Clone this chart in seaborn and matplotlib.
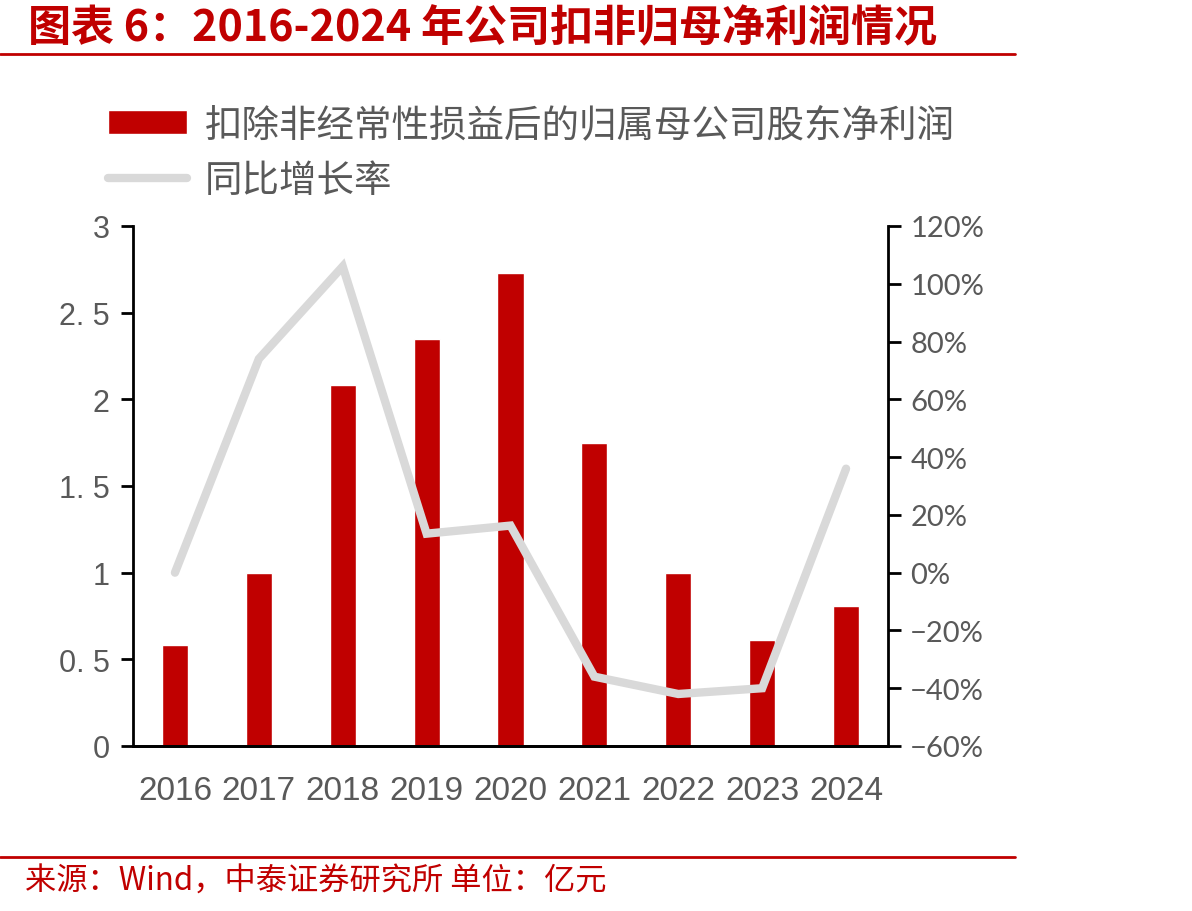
import numpy as np
import pandas as pd
import matplotlib
matplotlib.use("Agg")
import matplotlib.pyplot as plt
from matplotlib.lines import Line2D
import seaborn as sns

# dados
anos = ['2016', '2017', '2018', '2019', '2020', '2021', '2022', '2023', '2024']
lucro = [0.58, 1.00, 2.08, 2.35, 2.73, 1.75, 1.00, 0.61, 0.81]   # 亿元
crescimento = [0.0, 74.0, 106.0, 13.5, 16.3, -36.0, -42.0, -40.0, 36.0]  # %

ticks_esq = [0, 0.5, 1, 1.5, 2, 2.5, 3]
rotulos_esq = ['0', '0. 5', '1', '1. 5', '2', '2. 5', '3']
ticks_dir = [-60, -40, -20, 0, 20, 40, 60, 80, 100, 120]

titulo = '图表 6：2016-2024 年公司扣非归母净利润情况'
fonte = '来源：Wind，中泰证券研究所 单位：亿元'
nome_barra = '扣除非经常性损益后的归属母公司股东净利润'
nome_linha = '同比增长率'

vermelho = '#C00000'
cinza = '#D9D9D9'
texto = '#595959'

sns.set_style('white')
plt.rcParams['font.family'] = ['Noto Sans CJK SC', 'DejaVu Sans']
plt.rcParams['axes.unicode_minus'] = True

df = pd.DataFrame({'ano': anos, 'lucro': lucro, 'crescimento': crescimento})
df['pos'] = np.arange(len(df))

W, H = 1192, 912
fig = plt.figure(figsize=(W / 100, H / 100), dpi=100)
ax = fig.add_axes([133 / W, 1 - 747 / H, (888 - 133) / W, (747 - 227) / H])

sns.barplot(data=df, x='ano', y='lucro', color=vermelho, saturation=1,
            width=0.31, ax=ax, label=nome_barra)
if ax.get_legend() is not None:
    ax.get_legend().remove()
ax.set_ylim(0, 3)
ax.set_xlim(-0.5, len(anos) - 0.5)
ax.set_xlabel('')
ax.set_ylabel('')

ax2 = ax.twinx()
sns.lineplot(data=df, x='pos', y='crescimento', color=cinza, linewidth=6,
             solid_capstyle='round', solid_joinstyle='miter', ax=ax2,
             label=nome_linha, legend=False)
ax2.set_ylim(-60, 120)
ax2.set_xlim(-0.5, len(anos) - 0.5)
ax2.set_xlabel('')
ax2.set_ylabel('')

# eixos
for a in (ax, ax2):
    for s in a.spines.values():
        s.set_visible(False)
    a.spines['bottom'].set_visible(True)
    a.spines['bottom'].set_color('black')
    a.spines['bottom'].set_linewidth(2)
ax.spines['left'].set_visible(True)
ax.spines['left'].set_color('black')
ax.spines['left'].set_linewidth(2)
ax2.spines['right'].set_visible(True)
ax2.spines['right'].set_color('black')
ax2.spines['right'].set_linewidth(2)

ax.set_yticks(ticks_esq)
ax.set_yticklabels(rotulos_esq, family='Liberation Sans', fontsize=22, color=texto)
ax.tick_params(axis='y', direction='out', length=9, width=2, color='black', pad=8, left=True)
ax.tick_params(axis='x', length=0, pad=21)
ax.set_xticks(np.arange(len(anos)))
ax.set_xticklabels(anos, family='Liberation Sans', fontsize=24, color=texto)

ax2.set_yticks(ticks_dir)
ax2.set_yticklabels([f'{v}%'.replace('-', '\u2212') for v in ticks_dir],
                    family='Lato', fontsize=21, color=texto)
ax2.tick_params(axis='y', direction='out', length=9, width=2, color='black', pad=7, right=True)
ax2.tick_params(axis='x', length=0)

# legenda
h1, l1 = ax.get_legend_handles_labels()
h2, l2 = ax2.get_legend_handles_labels()
fig.legend(h1 + h2, l1 + l2, loc='upper left',
           bbox_to_anchor=(108 / W, 1 - 106 / H), frameon=False,
           fontsize=27, labelcolor=texto, handlelength=2.1, handleheight=0.62,
           handletextpad=0.48, labelspacing=0.45, borderpad=0, borderaxespad=0)

# título e rodapé
fig.text(28 / W, 1 - 28 / H, titulo, color=vermelho, fontsize=31,
         fontweight='bold', style='italic', va='center', ha='left')
fig.add_artist(Line2D([0, 1015 / W], [1 - 55 / H, 1 - 55 / H],
                      transform=fig.transFigure, color=vermelho, lw=2))
fig.add_artist(Line2D([0, 1015 / W], [1 - 858 / H, 1 - 858 / H],
                      transform=fig.transFigure, color=vermelho, lw=2))
fig.text(25 / W, 1 - 882 / H, fonte, color=vermelho, fontsize=22.5,
         va='center', ha='left')

fig.savefig('out.png', dpi=100, facecolor='white')
